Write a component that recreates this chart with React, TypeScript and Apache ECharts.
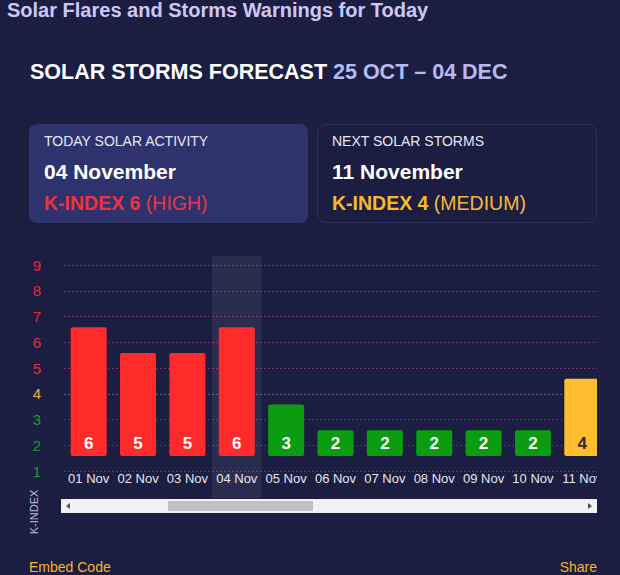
import React, { useEffect, useRef } from 'react';
import * as echarts from 'echarts';

// ---- data ----
const categories = ['01 Nov', '02 Nov', '03 Nov', '04 Nov', '05 Nov', '06 Nov', '07 Nov', '08 Nov', '09 Nov', '10 Nov', '11 Nov'];
const kIndex = [6, 5, 5, 6, 3, 2, 2, 2, 2, 2, 4];
const yMin = 1;
const yMax = 9;
const todayCategory = '04 Nov';
const pageTitle = 'Solar Flares and Storms Warnings for Today';
const forecastTitle = 'SOLAR STORMS FORECAST';
const forecastRange = '25 OCT – 04 DEC';
const todayCard = { head: 'TODAY SOLAR ACTIVITY', date: '04 November', k: 'K-INDEX 6', level: '(HIGH)' };
const nextCard = { head: 'NEXT SOLAR STORMS', date: '11 November', k: 'K-INDEX 4', level: '(MEDIUM)' };

// ---- styles ----
const BG = '#1b1e41';
const FONT = '"Liberation Sans", Arial, sans-serif';
const RED = '#ff2b2b';
const GREEN = '#0b9c12';
const YELLOW = '#ffbe2f';
const LBL_RED = '#e8293f';
const LBL_YELLOW = '#e9b43a';
const LBL_GREEN = '#1d9a2c';
const BASE_LEVEL = 1.58; // bar baseline sits between the "1" and "2" lines

const barColor = (v: number) => (v >= 5 ? RED : v === 4 ? YELLOW : GREEN);
const labelColor = (v: number) => (v >= 5 ? LBL_RED : v === 4 ? LBL_YELLOW : LBL_GREEN);
const gridColor = (v: number) =>
  v >= 5 ? 'rgba(190,60,120,0.55)' : v === 4 ? 'rgba(170,170,190,0.45)' : 'rgba(110,120,170,0.4)';

const yLevels: number[] = [];
for (let v = yMin; v <= yMax; v++) yLevels.push(v);

export default function App() {
  const ref = useRef<HTMLDivElement>(null);
  useEffect(() => {
    document.body.style.margin = '0';
    const chart = echarts.init(ref.current!, null, { renderer: 'svg' });
    const option: any = {
      animation: false,
      backgroundColor: BG,
      textStyle: { fontFamily: FONT },
      grid: { left: 64, right: 13, top: 265, bottom: 104, containLabel: false },
      xAxis: {
        type: 'category',
        data: categories,
        axisLine: { show: false },
        axisTick: { show: false },
        axisLabel: { color: '#e6e6ee', fontSize: 13, margin: 1, interval: 0, fontFamily: FONT },
      },
      yAxis: [
        {
          type: 'value',
          min: yMin,
          max: yMax,
          interval: 1,
          axisLine: { show: false },
          axisTick: { show: false },
          axisLabel: {
            fontSize: 15,
            margin: 23,
            fontFamily: FONT,
            color: (val: any) => labelColor(Number(val)),
          },
          splitLine: {
            show: true,
            lineStyle: { color: yLevels.map(gridColor), type: [2, 2], width: 1 },
          },
        },
        {
          type: 'value',
          min: yMin - BASE_LEVEL,
          max: yMax - BASE_LEVEL,
          show: false,
          splitLine: { show: false },
        },
      ],
      series: [
        {
          type: 'bar',
          yAxisIndex: 1,
          barWidth: 36,
          data: kIndex.map((v) => ({
            value: v - 1,
            itemStyle: { color: barColor(v), borderRadius: 2 },
            label: { color: v === 4 ? '#2a2a3a' : '#ffffff' },
          })),
          label: {
            show: true,
            position: 'insideBottom',
            distance: 4,
            fontSize: 17,
            fontWeight: 'bold',
            fontFamily: FONT,
            formatter: (p: any) => String(kIndex[p.dataIndex]),
          },
        },
      ],
      graphic: {
        elements: [
          {
            type: 'text',
            x: 7,
            y: 10,
            style: {
              text: pageTitle,
              fill: '#cdc7f5',
              font: `bold 20px ${FONT}`,
              verticalAlign: 'middle',
            },
          },
          {
            type: 'text',
            x: 30,
            y: 72,
            style: {
              text: `{a|${forecastTitle} }{b|${forecastRange}}`,
              verticalAlign: 'middle',
              rich: {
                a: { fill: '#ffffff', fontSize: 21.5, fontWeight: 'bold', fontFamily: FONT },
                b: { fill: '#b7baf0', fontSize: 21.5, fontWeight: 'bold', fontFamily: FONT },
              },
            },
          },
          {
            type: 'rect',
            shape: { x: 29, y: 124, width: 279, height: 99, r: 8 },
            style: { fill: '#2e336d' },
          },
          {
            type: 'rect',
            shape: { x: 317.5, y: 124.5, width: 279, height: 98, r: 8 },
            style: { fill: BG, stroke: '#2b2f5e', lineWidth: 1 },
          },
          {
            type: 'text', x: 44, y: 141,
            style: { text: todayCard.head, fill: '#e8e8f2', font: `14px ${FONT}`, verticalAlign: 'middle' },
          },
          {
            type: 'text', x: 44, y: 171,
            style: { text: todayCard.date, fill: '#ffffff', font: `bold 21px ${FONT}`, verticalAlign: 'middle' },
          },
          {
            type: 'text', x: 44, y: 203,
            style: {
              text: `{a|${todayCard.k} }{b|${todayCard.level}}`,
              verticalAlign: 'middle',
              rich: {
                a: { fill: '#f0303c', fontSize: 19.5, fontWeight: 'bold', fontFamily: FONT },
                b: { fill: '#e8364c', fontSize: 19.5, fontFamily: FONT },
              },
            },
          },
          {
            type: 'text', x: 332, y: 141,
            style: { text: nextCard.head, fill: '#e8e8f2', font: `14px ${FONT}`, verticalAlign: 'middle' },
          },
          {
            type: 'text', x: 332, y: 171,
            style: { text: nextCard.date, fill: '#ffffff', font: `bold 21px ${FONT}`, verticalAlign: 'middle' },
          },
          {
            type: 'text', x: 332, y: 203,
            style: {
              text: `{a|${nextCard.k} }{b|${nextCard.level}}`,
              verticalAlign: 'middle',
              rich: {
                a: { fill: '#f9b92b', fontSize: 19.5, fontWeight: 'bold', fontFamily: FONT },
                b: { fill: '#f6b83a', fontSize: 19.5, fontFamily: FONT },
              },
            },
          },
          // clip of the scroll container on the right
          {
            type: 'rect', z: 100,
            shape: { x: 597, y: 250, width: 23, height: 250 },
            style: { fill: BG },
          },
          // scrollbar
          {
            type: 'rect', z: 101,
            shape: { x: 61, y: 499, width: 536, height: 14 },
            style: { fill: '#f1f1f1' },
          },
          {
            type: 'rect', z: 102,
            shape: { x: 168, y: 501, width: 145, height: 10 },
            style: { fill: '#c1c1c1' },
          },
          {
            type: 'polygon', z: 102,
            shape: { points: [[66, 506], [70, 503], [70, 509]] },
            style: { fill: '#505050' },
          },
          {
            type: 'polygon', z: 102,
            shape: { points: [[592, 506], [588, 503], [588, 509]] },
            style: { fill: '#505050' },
          },
          {
            type: 'text', x: 34, y: 512, rotation: Math.PI / 2,
            style: { text: 'K-INDEX', fill: '#b9bde6', font: `11px ${FONT}`, align: 'center', verticalAlign: 'middle' },
          },
          {
            type: 'text', x: 29, y: 567,
            style: { text: 'Embed Code', fill: '#f7b52c', font: `14px ${FONT}`, verticalAlign: 'middle' },
          },
          {
            type: 'text', x: 597, y: 567,
            style: { text: 'Share', fill: '#f7b52c', font: `14px ${FONT}`, align: 'right', verticalAlign: 'middle' },
          },
        ],
      },
    };
    chart.setOption(option);
    const idx = categories.indexOf(todayCategory);
    const cx = chart.convertToPixel({ xAxisIndex: 0 }, categories[idx]) as number;
    const nx = chart.convertToPixel({ xAxisIndex: 0 }, categories[idx + 1]) as number;
    const band = nx - cx;
    chart.setOption({
      graphic: {
        elements: [
          {
            id: 'todayHighlight',
            type: 'rect',
            z: 1,
            shape: { x: cx - band / 2, y: 256, width: band, height: 242 },
            style: { fill: 'rgba(255,255,255,0.07)' },
          },
        ],
      },
    });
    return () => chart.dispose();
  }, []);
  return <div ref={ref} style={{ width: 620, height: 575, background: BG }} />;
}
